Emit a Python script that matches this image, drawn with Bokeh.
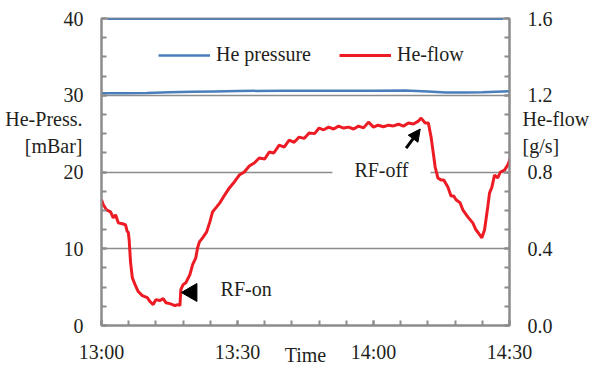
import math
from bokeh.plotting import figure
from bokeh.models import (Range1d, LinearAxis, FixedTicker, Label, Arrow, NormalHead,
                          Legend, LegendItem, PrintfTickFormatter)
from bokeh.embed import file_html
from bokeh.resources import INLINE

# ---- data (time in minutes after 13:00) ----
flow_t = [0.0, 0.4, 1.1, 2.0, 2.6, 3.1, 3.7, 4.6, 5.3, 5.7, 5.9, 6.1, 6.4, 6.8, 7.4, 8.1, 9.0,
          10.1, 10.7, 11.4, 12.0, 12.9, 13.6, 14.2, 15.1, 16.2, 16.9, 17.3, 17.5, 18.0, 18.6,
          19.5, 20.1, 20.8, 21.2, 21.6, 22.3, 23.2, 23.9, 24.5, 25.4, 26.1, 27.2, 28.2, 29.3,
          30.4, 31.5, 32.6, 33.7, 34.8, 36.0, 37.0, 38.0, 39.2, 40.3, 41.4, 42.5, 43.6, 44.7,
          45.8, 47.0, 48.0, 49.0, 50.1, 51.2, 52.3, 53.4, 54.5, 55.6, 56.7, 57.8, 58.9, 60.0,
          61.0, 62.2, 63.3, 64.4, 65.5, 66.6, 67.7, 68.8, 69.9, 70.5, 71.4, 72.1, 72.7, 73.1,
          73.6, 74.2, 74.9, 75.5, 76.4, 77.1, 77.7, 78.2, 79.1, 79.7, 80.8, 81.9, 82.6, 83.2,
          83.9, 84.5, 85.2, 85.6, 86.1, 86.7, 87.4, 88.0, 88.9, 89.6, 90.3]
flow_gs = [0.655, 0.629, 0.603, 0.592, 0.561, 0.577, 0.535, 0.530, 0.525, 0.488, 0.488, 0.447,
           0.332, 0.249, 0.213, 0.177, 0.156, 0.145, 0.125, 0.109, 0.135, 0.130, 0.140, 0.119,
           0.114, 0.104, 0.109, 0.104, 0.187, 0.213, 0.223, 0.265, 0.317, 0.353, 0.405, 0.436,
           0.457, 0.488, 0.540, 0.592, 0.618, 0.639, 0.681, 0.717, 0.748, 0.784, 0.800, 0.831,
           0.847, 0.873, 0.868, 0.904, 0.899, 0.940, 0.930, 0.966, 0.955, 0.982, 0.975, 1.003,
           1.000, 1.029, 1.020, 1.034, 1.024, 1.039, 1.029, 1.034, 1.024, 1.039, 1.030, 1.060,
           1.034, 1.044, 1.036, 1.044, 1.040, 1.049, 1.039, 1.055, 1.050, 1.065, 1.081, 1.055,
           1.055, 0.982, 0.914, 0.826, 0.769, 0.758, 0.758, 0.722, 0.675, 0.675, 0.655, 0.640,
           0.603, 0.566, 0.535, 0.499, 0.480, 0.457, 0.499, 0.618, 0.691, 0.720, 0.784, 0.769,
           0.800, 0.810, 0.836, 0.878]

press_t = [0, 5, 10, 15, 20, 25, 30, 40, 50, 60, 67, 72, 76, 80, 84, 87, 90]
press_mbar = [30.25, 30.25, 30.3, 30.4, 30.45, 30.5, 30.55, 30.6, 30.6, 30.6, 30.62, 30.5,
              30.35, 30.35, 30.38, 30.45, 30.52]

upper_t = [1.3, 88.6]
upper_mbar = [40.0, 40.0]

x_ticks = [0, 30, 60, 90]
x_labels = ["13:00", "13:30", "14:00", "14:30"]
left_ticks = [0, 10, 20, 30, 40]
right_ticks = [0.0, 0.4, 0.8, 1.2, 1.6]

FONT = "Liberation Serif"
FS = "20px"
TXT = "#231f20"
AX = "#8c8c8c"
BLUE = "#4a7ebb"
RED = "#ed1c24"

p = figure(width=592, height=368, output_backend="svg", toolbar_location=None,
           x_range=Range1d(0, 90), y_range=Range1d(0, 40),
           min_border_left=101, min_border_right=80, min_border_top=18, min_border_bottom=42)
p.extra_y_ranges = {"flow": Range1d(0, 1.6)}
p.outline_line_color = AX
p.outline_line_width = 2
p.background_fill_color = "white"
p.border_fill_color = "white"

# x axis
xa = p.xaxis[0]
xa.ticker = FixedTicker(ticks=x_ticks, minor_ticks=list(range(0, 91, 6)))
xa.major_label_overrides = {t: l for t, l in zip(x_ticks, x_labels)}
xa.axis_label = "Time"

# left axis
ya = p.yaxis[0]
ya.ticker = FixedTicker(ticks=left_ticks, minor_ticks=[i * 2.5 for i in range(17)])
ya.axis_label = "He-Press.\n[mBar]\n\n\n"

# right axis
ra = LinearAxis(y_range_name="flow",
                ticker=FixedTicker(ticks=right_ticks, minor_ticks=[i / 10 for i in range(17)]),
                formatter=PrintfTickFormatter(format="%.1f"),
                axis_label="He-flow\n[g/s]\n\n\n")
p.add_layout(ra, "right")

for ax in (xa, ya, ra):
    ax.axis_line_color = AX
    ax.axis_line_width = 2
    ax.major_tick_line_color = AX
    ax.minor_tick_line_color = AX
    ax.major_tick_line_width = 2
    ax.minor_tick_line_width = 2
    ax.major_tick_in = 5
    ax.major_tick_out = 0
    ax.minor_tick_in = 5
    ax.minor_tick_out = 0
    ax.major_label_text_font = FONT
    ax.major_label_text_font_size = FS
    ax.major_label_text_color = TXT
    ax.axis_label_text_font = FONT
    ax.axis_label_text_font_size = FS
    ax.axis_label_text_font_style = "normal"
    ax.axis_label_text_color = TXT
xa.major_label_standoff = 15
xa.axis_label_standoff = -22
ya.major_label_standoff = 18
ra.major_label_standoff = 18
ya.axis_label_orientation = "horizontal"
ra.axis_label_orientation = "horizontal"
ya.axis_label_standoff = -22
ra.axis_label_standoff = -33
ya.axis_label_text_line_height = 1.2
ra.axis_label_text_line_height = 1.2
ya.axis_label_text_align = "center"
ra.axis_label_text_align = "center"

p.xgrid.visible = False
p.ygrid.ticker = FixedTicker(ticks=[10, 20, 30])
p.ygrid.grid_line_color = AX
p.ygrid.grid_line_width = 1.5

# series
r_up = p.line(upper_t, upper_mbar, line_color=BLUE, line_width=3)
r_p = p.line(press_t, press_mbar, line_color=BLUE, line_width=2.5)
r_f = p.line(flow_t, flow_gs, line_color=RED, line_width=3, y_range_name="flow")

legend = Legend(items=[LegendItem(label="He pressure", renderers=[r_p]),
                       LegendItem(label="He-flow", renderers=[r_f])],
                orientation="horizontal", location=(57, 259),
                glyph_width=52, glyph_height=20, label_standoff=6, spacing=28,
                padding=0, margin=0, border_line_color=None, background_fill_alpha=0,
                label_text_font=FONT, label_text_font_size=FS, label_text_color=TXT)
p.add_layout(legend)

p.add_layout(Label(x=31.9, y=4.8, text="RF-on", text_font=FONT, text_font_size=FS,
                   text_color=TXT, text_align="center", text_baseline="middle"))
p.add_layout(Label(x=61.75, y=20.2, text="RF-off", text_font=FONT, text_font_size=FS,
                   text_color=TXT, text_align="center", text_baseline="middle",
                   background_fill_color="white",
                   padding=dict(left=22, right=22, top=2, bottom=2)))

# RF-on marker (left-pointing triangle)
p.scatter([19.9], [4.3], marker="triangle", size=18, angle=math.pi / 2,
          fill_color="black", line_color="black")

# RF-off arrow
p.add_layout(Arrow(x_start=67.2, y_start=23.1, x_end=70.3, y_end=25.6,
                   line_color="black", line_width=3,
                   end=NormalHead(size=12, fill_color="black", line_color="black")))

open("out.html", "w").write(file_html(p, INLINE))
